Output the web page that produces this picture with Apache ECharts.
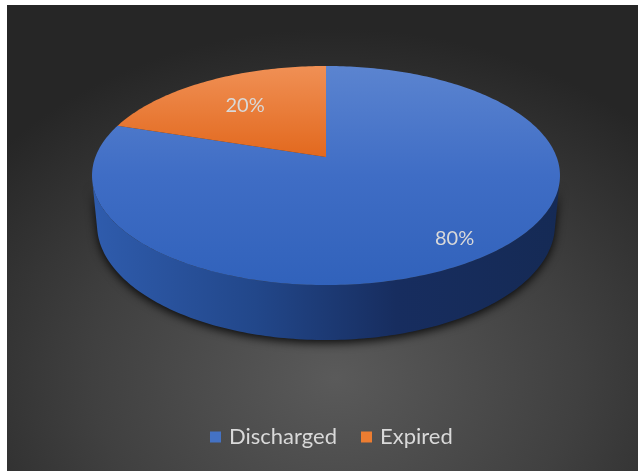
<!DOCTYPE html>
<html><head><meta charset="utf-8">
<script src="https://cdn.jsdelivr.net/npm/echarts@6/dist/echarts.min.js"></script>
<style>
html,body{margin:0;padding:0;background:#fff;width:638px;height:472px;overflow:hidden}
#c{position:absolute;left:7px;top:5px;width:631px;height:466px;
background:radial-gradient(ellipse 70% 75% at 52% 80%, #5a5a5a 0%, #404040 55%, #262626 100%);}
</style></head><body><div id="c"></div>
<script>
// ---- data ----
const categories = ['Discharged', 'Expired'];
const values = [80, 20];

// ---- style / layout ----
const sliceColors = ['#4472C4', '#ED7D31'];
const topStops = [
  [[0, '#5b84d0'], [0.5, '#3f6dc5'], [1, '#3162bb']],
  [[0, '#f09055'], [0.42, '#e2681d'], [1, '#e2681d']]
];
const labelRho = [0.84, 0.65];
const FONT = 'Lato, "Open Sans", sans-serif';
const CX = 319, CY = 152;          // projected pie centre
const F = 1210.5, D = 5.249;       // perspective
const SA = 0.4614, CA = 0.8872;    // camera elevation sin/cos
const H = 0.2425;                  // thickness (radius = 1)

function proj(X, Y, Z) {
  const yc = Y * CA + Z * SA;
  const d = D + Z * CA - Y * SA;
  return [CX + F * X / d, CY - F * yc / d];
}
const rad = a => a * Math.PI / 180;
const visLimit = Math.acos(-1 / (D * CA)) * 180 / Math.PI;

const total = values.reduce((a, b) => a + b, 0);

function renderSlice(params, api) {
  const i = params.seriesIndex;
  let start = 0;
  for (let k = 0; k < i; k++) start += values[k];
  const a0 = start / total * 360, a1 = (start + values[i]) / total * 360;
  const children = [];
  const topY = proj(0, 0, 1)[1], botY = proj(0, 0, -1)[1];

  const v0 = Math.max(a0, visLimit), v1 = Math.min(a1, 360 - visLimit);
  if (v1 > v0) {
    const up = [], dn = [];
    const n = Math.ceil(v1 - v0);
    for (let s = 0; s <= n; s++) {
      const p = rad(v0 + (v1 - v0) * s / n);
      up.push(proj(Math.sin(p), 0, Math.cos(p)));
      dn.push(proj(Math.sin(p), -H, Math.cos(p)));
    }
    children.push({
      type: 'polygon', z2: 1,
      shape: { points: up.concat(dn.reverse()) },
      style: {
        fill: { type: 'linear', x: 0, y: 0, x2: 1, y2: 0, colorStops: [
          { offset: 0, color: '#2f5cad' }, { offset: 0.35, color: '#22478a' },
          { offset: 0.65, color: '#172d5f' }, { offset: 1, color: '#152a55' }] },
        shadowBlur: 10, shadowColor: 'rgba(0,0,0,0.85)', shadowOffsetY: 3
      }
    });
  }

  const pts = [proj(0, 0, 0)];
  const n = Math.max(2, Math.ceil(a1 - a0));
  for (let s = 0; s <= n; s++) {
    const p = rad(a0 + (a1 - a0) * s / n);
    pts.push(proj(Math.sin(p), 0, Math.cos(p)));
  }
  children.push({
    type: 'polygon', z2: 5,
    shape: { points: pts },
    style: {
      fill: { type: 'linear', global: true, x: 0, y: topY, x2: 0, y2: botY,
        colorStops: topStops[i].map(s => ({ offset: s[0], color: s[1] })) }
    }
  });

  const mid = rad((a0 + a1) / 2), r = labelRho[i];
  const lp = proj(r * Math.sin(mid), 0, r * Math.cos(mid));
  children.push({
    type: 'text', z2: 10, x: lp[0], y: lp[1],
    style: {
      text: Math.round(values[i] / total * 100) + '%',
      fill: '#d9d9d9', font: '20px ' + FONT,
      align: 'center', verticalAlign: 'middle'
    }
  });
  return { type: 'group', children };
}

const chart = echarts.init(document.getElementById('c'), null, { renderer: 'canvas' });
chart.setOption({
  animation: false,
  legend: {
    data: categories,
    left: 198, top: 416,
    icon: 'rect', itemWidth: 11, itemHeight: 11, itemGap: 24,
    textStyle: { color: '#d9d9d9', fontSize: 22, fontFamily: FONT, padding: [0, 0, 0, 3] }
  },
  series: categories.map((name, i) => ({
    type: 'custom', name,
    coordinateSystem: 'none',
    itemStyle: { color: sliceColors[i] },
    data: [[values[i]]],
    renderItem: renderSlice
  }))
});
</script></body></html>
